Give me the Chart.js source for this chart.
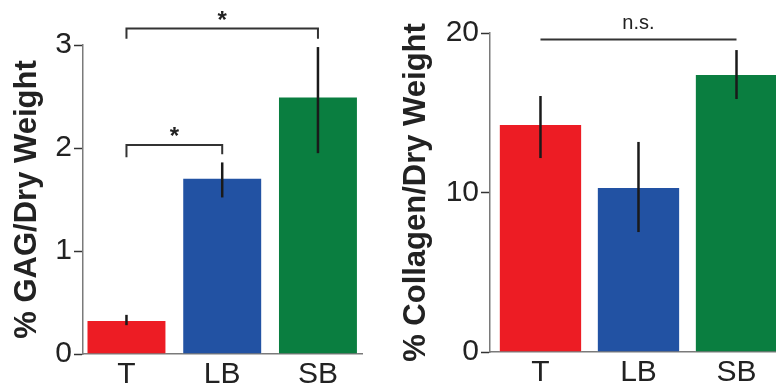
<!DOCTYPE html>
<html>
<head>
    <title>GAG and Collagen</title>
    <script src="https://cdn.jsdelivr.net/npm/chart.js@4.4.0/dist/chart.umd.min.js"></script>
    <style>
        body { margin: 0; background: #fff; }
        #wrap { position: relative; width: 776px; height: 390px; overflow: hidden; }
        #gagBox { position: absolute; left: 0; top: 0; }
        #colBox { position: absolute; left: 390px; top: 0; }
    </style>
</head>
<body>
<div id="wrap">
    <div id="gagBox"><canvas id="gagChart" width="390" height="390"></canvas></div>
    <div id="colBox"><canvas id="colChart" width="386" height="390"></canvas></div>
</div>
<script>
    // categories and colours
    var groups = ['T', 'LB', 'SB'];
    var barColors = ['#ED1C24', '#2252A3', '#0A7E40'];

    // % GAG / dry weight
    var gagMean = [0.33, 1.71, 2.50];
    var gagLow = [0.28, 1.52, 1.95];
    var gagHigh = [0.38, 1.86, 2.98];
    var gagTicks = [0, 1, 2, 3];

    // % collagen / dry weight
    var colMean = [14.3, 10.35, 17.43];
    var colLow = [12.16, 7.52, 15.86];
    var colHigh = [16.05, 13.17, 18.93];
    var colTicks = [0, 10, 20];

    // significance marks: [from group, to group, bar height, left leg end, right leg end, label]
    var gagSig = [
        [1, 3, 3.16, 3.06, 3.06, '*'],
        [1, 2, 2.03, 1.91, 1.94, '*']
    ];
    var colSig = [
        [1, 3, 19.6, null, null, 'n.s.']
    ];

    var fontName = '"Liberation Sans", Arial, sans-serif';

    // draws error bars and the brackets above the bars
    function marksPlugin(low, high, sig) {
        return {
            id: 'marks',
            afterDatasetsDraw: function (chart) {
                var ctx = chart.ctx;
                var xs = chart.scales.x, ys = chart.scales.y;
                ctx.save();
                ctx.strokeStyle = '#1a1a1a';
                ctx.lineWidth = 2.5;
                for (var i = 0; i < groups.length; i++) {
                    var px = xs.getPixelForValue(i + 1);
                    ctx.beginPath();
                    ctx.moveTo(px, ys.getPixelForValue(low[i]));
                    ctx.lineTo(px, ys.getPixelForValue(high[i]));
                    ctx.stroke();
                }
                ctx.lineWidth = 2;
                ctx.strokeStyle = '#333';
                ctx.fillStyle = '#222';
                ctx.textAlign = 'center';
                sig.forEach(function (s) {
                    var x1 = xs.getPixelForValue(s[0]);
                    var x2 = xs.getPixelForValue(s[1]);
                    var y = ys.getPixelForValue(s[2]);
                    ctx.beginPath();
                    if (s[3] !== null) {
                        ctx.moveTo(x1, ys.getPixelForValue(s[3]));
                        ctx.lineTo(x1, y);
                        ctx.lineTo(x2, y);
                        ctx.lineTo(x2, ys.getPixelForValue(s[4]));
                    } else {
                        ctx.moveTo(x1, y);
                        ctx.lineTo(x2, y);
                    }
                    ctx.stroke();
                    ctx.textBaseline = 'alphabetic';
                    if (s[5] === '*') {
                        ctx.font = 'bold 24px ' + fontName;
                        ctx.fillText('*', (x1 + x2) / 2, y - 1);
                    } else {
                        ctx.font = '20px ' + fontName;
                        ctx.fillText(s[5], (x1 + x2) / 2, y - 10);
                    }
                });
                ctx.restore();
            }
        };
    }

    function createChart(canvasId, mean, low, high, sig, opts) {
        var ctx = document.getElementById(canvasId).getContext('2d');
        return new Chart(ctx, {
            type: 'bar',
            data: {
                datasets: [{
                    data: mean.map(function (v, i) { return { x: i + 1, y: v }; }),
                    backgroundColor: barColors,
                    borderColor: 'rgba(255,255,255,0.35)',
                    borderWidth: 1,
                    barPercentage: opts.barPct,
                    categoryPercentage: 1
                }]
            },
            options: {
                responsive: false,
                animation: false,
                layout: { padding: { top: opts.top, right: opts.right, left: 0, bottom: 0 } },
                plugins: { legend: { display: false }, tooltip: { enabled: false } },
                scales: {
                    x: {
                        type: 'linear',
                        offset: false,
                        min: opts.xMin,
                        max: opts.xMax,
                        afterBuildTicks: function (scale) {
                            scale.ticks = groups.map(function (g, i) { return { value: i + 1 }; });
                        },
                        afterFit: function (scale) { scale.height = opts.bottomH; },
                        grid: { display: false },
                        border: { color: '#7a7a7a', width: 1.5 },
                        ticks: {
                            padding: -5,
                            color: '#222',
                            font: { family: fontName, size: 30 },
                            callback: function (v) { return groups[v - 1]; }
                        }
                    },
                    y: {
                        min: 0,
                        max: opts.yTicks[opts.yTicks.length - 1],
                        afterBuildTicks: function (scale) {
                            scale.ticks = opts.yTicks.map(function (v) { return { value: v }; });
                        },
                        afterFit: function (scale) { scale.width = opts.leftW; },
                        grid: { drawOnChartArea: false, tickLength: 9, tickColor: '#333', tickWidth: 1.5 },
                        border: { color: '#7a7a7a', width: 1.5 },
                        ticks: {
                            padding: 2,
                            color: '#222',
                            font: { family: fontName, size: 30 }
                        },
                        title: {
                            display: true,
                            text: opts.title,
                            color: '#222',
                            font: { family: fontName, size: 31, weight: 'bold' },
                            padding: { top: opts.titlePad, bottom: 0 }
                        }
                    }
                }
            },
            plugins: [marksPlugin(low, high, sig)]
        });
    }

    createChart('gagChart', gagMean, gagLow, gagHigh, gagSig, {
        title: '% GAG/Dry Weight', yTicks: gagTicks, barPct: 0.835,
        xMin: 0.546, xMax: 3.46, top: 45, right: 28, bottomH: 36, leftW: 83, titlePad: 9
    });
    createChart('colChart', colMean, colLow, colHigh, colSig, {
        title: '% Collagen/Dry Weight', yTicks: colTicks, barPct: 0.85,
        xMin: 0.485, xMax: 3.403, top: 33, right: 0, bottomH: 38, leftW: 100, titlePad: 8
    });
</script>
</body>
</html>
